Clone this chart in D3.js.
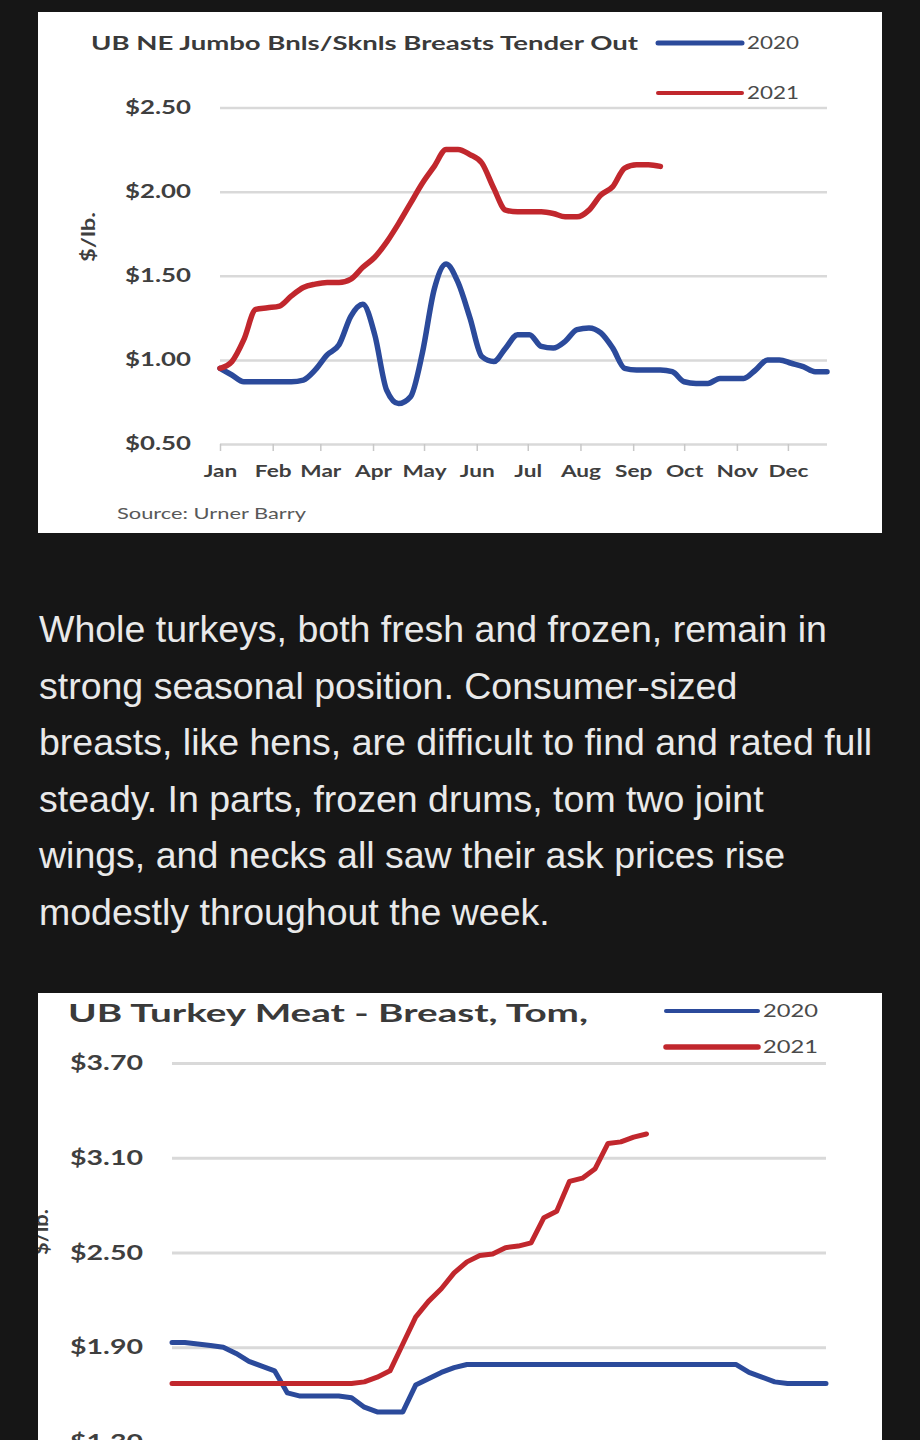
<!DOCTYPE html>
<html><head><meta charset="utf-8">
<script src="https://cdn.jsdelivr.net/npm/d3@7"></script>
<style>
html,body{margin:0;padding:0;background:#161616;}
svg{display:block;}
</style></head>
<body>
<svg id="page" width="920" height="1440"></svg>
<script>
// ---------------- data ----------------
const months = ["Jan","Feb","Mar","Apr","May","Jun","Jul","Aug","Sep","Oct","Nov","Dec"];
const seriesNames = ["2020","2021"];

// Chart 1: UB NE Jumbo Bnls/Sknls Breasts Tender Out ($/lb, weekly)
const breastTicks = [0.5, 1.0, 1.5, 2.0, 2.5];
const breast2020 = [0.95,0.91,0.87,0.87,0.87,0.87,0.87,0.88,0.94,1.03,1.09,1.26,1.33,1.15,0.82,0.74,0.78,1.04,1.42,1.57,1.46,1.25,1.02,0.99,1.07,1.15,1.15,1.08,1.07,1.11,1.18,1.19,1.16,1.07,0.95,0.94,0.94,0.94,0.93,0.87,0.86,0.86,0.89,0.89,0.89,0.94,1.00,1.00,0.98,0.96,0.93,0.93];
const breast2021 = [0.95,0.99,1.12,1.30,1.31,1.32,1.38,1.43,1.45,1.46,1.46,1.48,1.55,1.61,1.70,1.81,1.93,2.05,2.15,2.25,2.25,2.22,2.17,2.02,1.89,1.88,1.88,1.88,1.87,1.85,1.85,1.89,1.98,2.03,2.14,2.16,2.16,2.15];

// Chart 2: UB Turkey Meat - Breast, Tom ($/lb, weekly)
const tomTicks = [1.3, 1.9, 2.5, 3.1, 3.7];
const tom2020 = [1.93,1.93,1.92,1.91,1.90,1.86,1.81,1.78,1.75,1.61,1.59,1.59,1.59,1.59,1.58,1.52,1.49,1.49,1.49,1.66,1.70,1.74,1.77,1.79,
                 1.79,1.79,1.79,1.79,1.79,1.79,1.79,1.79,1.79,1.79,1.79,1.79,1.79,1.79,1.79,1.79,1.79,1.79,1.79,1.79,1.79,
                 1.74,1.71,1.68,1.67,1.67,1.67,1.67];
const tom2021 = [1.67,1.67,1.67,1.67,1.67,1.67,1.67,1.67,1.67,1.67,1.67,1.67,1.67,1.67,1.67,1.68,1.71,1.75,1.92,2.09,2.19,2.27,2.37,2.44,2.48,2.49,2.53,2.54,2.56,2.72,2.76,2.95,2.97,3.03,3.19,3.20,3.23,3.25];

const paragraph = [
  "Whole turkeys, both fresh and frozen, remain in",
  "strong seasonal position. Consumer-sized",
  "breasts, like hens, are difficult to find and rated full",
  "steady. In parts, frozen drums, tom two joint",
  "wings, and necks all saw their ask prices rise",
  "modestly throughout the week."
];

// ---------------- drawing ----------------
const W = 920, H = 1440;
const BLUE = "#2b4a9b", RED = "#c1272d";
const svg = d3.select("#page");
svg.append("rect").attr("width", W).attr("height", H).attr("fill", "#161616");
const defs = svg.append("defs");

function weekDate(i){ return d3.timeDay.offset(new Date(2021,0,1), 7*i); }
const monthDates = d3.timeMonth.range(new Date(2021,0,1), new Date(2022,0,1));

function fit(sel, target){
  sel.attr("textLength", target).attr("lengthAdjust", "spacingAndGlyphs");
}
function fitK(sel, k){
  sel.each(function(){
    const w = this.getComputedTextLength();
    d3.select(this).attr("textLength", w*k).attr("lengthAdjust", "spacingAndGlyphs");
  });
}

function drawChart(o){
  defs.append("clipPath").attr("id", o.id).append("rect")
    .attr("x", o.panel[0]).attr("y", o.panel[1]).attr("width", o.panel[2]).attr("height", o.panel[3]);
  const g = svg.append("g").attr("clip-path", `url(#${o.id})`);
  g.append("rect").attr("x", o.panel[0]).attr("y", o.panel[1])
    .attr("width", o.panel[2]).attr("height", o.panel[3]).attr("fill", "#ffffff");

  const x = d3.scaleTime().domain([weekDate(0), weekDate(51)]).range([o.left, o.right]);
  const y = d3.scaleLinear().domain([o.ticks[0], o.ticks[o.ticks.length-1]]).range([o.bottom, o.top]);

  // y axis + gridlines
  const ya = g.append("g").attr("transform", `translate(${o.left},0)`)
    .call(d3.axisLeft(y).tickValues(o.ticks).tickSize(-(o.right - o.left))
      .tickPadding(o.yPad).tickFormat(d3.format("$.2f")));
  ya.select(".domain").remove();
  ya.selectAll(".tick line").attr("stroke", "#d9d9d9").attr("stroke-width", o.gridW);
  ya.selectAll(".tick text").attr("font-family", "Lato").attr("font-weight", "bold")
    .attr("font-size", o.yFont).attr("fill", "#3f3f3f").call(fit, o.yLabelW);

  // x axis (months) - only where the panel shows it
  if (o.showX){
    const xa = g.append("g").attr("transform", `translate(0,${o.bottom})`)
      .call(d3.axisBottom(x).tickValues(monthDates).tickSize(7).tickPadding(14)
        .tickFormat((d,i) => months[i]));
    xa.select(".domain").remove();
    xa.selectAll(".tick line").attr("stroke", "#c8c8c8").attr("stroke-width", 1.5);
    xa.selectAll(".tick text").attr("font-family", "Lato").attr("font-weight", "bold")
      .attr("font-size", o.xFont).attr("fill", "#3f3f3f").call(fitK, o.xK);
  }

  // y axis title
  g.append("text").attr("transform", `translate(${o.yTitle[0]},${o.yTitle[1]}) rotate(-90)`)
    .attr("text-anchor", "middle").attr("font-family", "Lato").attr("font-weight", "bold")
    .attr("font-size", o.yTitleFont).attr("fill", "#3f3f3f").text("$/lb.").call(fit, o.yTitleW);

  // lines
  const line = d3.line().x((d,i) => x(weekDate(i))).y(d => y(d)).curve(o.curve);
  const series = [{name: seriesNames[0], values: o.s2020, color: BLUE},
                  {name: seriesNames[1], values: o.s2021, color: RED}];
  g.selectAll("path.series").data(series).join("path").attr("class", "series")
    .attr("d", d => line(d.values)).attr("fill", "none").attr("stroke", d => d.color)
    .attr("stroke-width", o.lineW).attr("stroke-linejoin", "round").attr("stroke-linecap", "round");

  // title
  g.append("text").attr("x", o.title[0]).attr("y", o.title[1])
    .attr("font-family", "Lato").attr("font-weight", "bold").attr("font-size", o.titleFont)
    .attr("fill", "#3a3a3a").text(o.titleText).call(fit, o.titleW);

  // legend
  const lg = g.selectAll("g.leg").data(series).join("g").attr("class", "leg")
    .attr("transform", (d,i) => `translate(0,${o.legY[i]})`);
  lg.append("line").attr("x1", o.legX[0]).attr("x2", o.legX[1]).attr("y1", 0).attr("y2", 0)
    .attr("stroke", d => d.color).attr("stroke-width", (d,i) => o.legW[i]).attr("stroke-linecap", "round");
  lg.append("text").attr("x", o.legX[1] + 5).attr("y", 0).attr("dy", "0.35em")
    .attr("font-family", "Lato").attr("font-size", o.legFont).attr("fill", "#4a4a4a")
    .text(d => d.name).call(fit, o.legTextW);

  if (o.source){
    g.append("text").attr("x", o.source[0]).attr("y", o.source[1])
      .attr("font-family", "Lato").attr("font-size", 15).attr("fill", "#595959")
      .text("Source: Urner Barry").call(fit, 189);
  }
}

drawChart({
  id: "clip1", panel: [38, 12, 844, 521],
  left: 220, right: 827, top: 107.5, bottom: 444,
  ticks: breastTicks, s2020: breast2020, s2021: breast2021,
  gridW: 2.5, yPad: 29, yFont: 18, yLabelW: 66,
  showX: true, xFont: 17, xK: 1.33,
  yTitle: [95, 237], yTitleFont: 19, yTitleW: 50,
  lineW: 5.5, curve: d3.curveMonotoneX,
  title: [91, 50], titleFont: 19, titleW: 547,
  titleText: "UB NE Jumbo Bnls/Sknls Breasts Tender Out",
  legX: [658, 742], legY: [43, 93], legW: [5, 4], legFont: 17, legTextW: 52,
  source: [117, 519]
});

drawChart({
  id: "clip2", panel: [38, 993, 844, 447],
  left: 172, right: 826, top: 1062.9, bottom: 1441.9,
  ticks: tomTicks, s2020: tom2020, s2021: tom2021,
  gridW: 3, yPad: 29, yFont: 21, yLabelW: 73,
  showX: false, xFont: 17, xK: 1.33,
  yTitle: [48, 1232], yTitleFont: 21, yTitleW: 46,
  lineW: 5, curve: d3.curveLinear,
  title: [68, 1022], titleFont: 25, titleW: 520,
  titleText: "UB Turkey Meat - Breast, Tom,",
  legX: [666, 758], legY: [1011, 1047], legW: [4, 5.5], legFont: 18, legTextW: 55,
  source: null
});

// paragraph
svg.append("g").selectAll("text").data(paragraph).join("text")
  .attr("x", 39).attr("y", (d,i) => 642 + i*56.5)
  .attr("font-family", "Liberation Sans, Arial, sans-serif").attr("font-size", 37.5)
  .attr("fill", "#e9e9e9").text(d => d);
</script>
</body></html>
